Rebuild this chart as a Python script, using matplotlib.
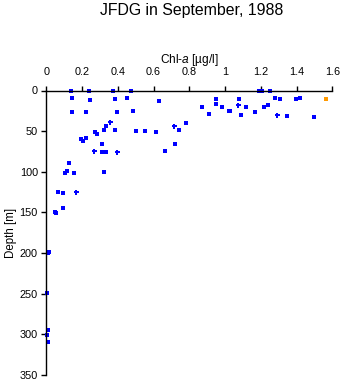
import matplotlib
matplotlib.use("Agg")
import matplotlib.pyplot as plt

plt.rcParams['font.family'] = ['Liberation Sans', 'DejaVu Sans']
plt.rcParams['mathtext.fontset'] = 'custom'
plt.rcParams['mathtext.rm'] = 'Liberation Sans'
plt.rcParams['mathtext.it'] = 'Liberation Sans:italic'

# square-marker samples (Chl-a, depth)
chl_sq = [0.136, 0.237, 0.375, 0.474, 0.146, 0.246, 0.386, 0.453, 0.146, 0.224,
          0.394, 0.483, 0.336, 0.274, 0.282, 0.324, 0.386, 0.503, 0.196, 0.205,
          0.224, 0.313, 0.313, 0.336, 0.127, 0.632, 0.873, 0.951, 0.951, 0.981,
          0.912, 1.024, 0.554, 0.615, 0.744, 0.783, 0.722, 0.666, 1.192, 1.208,
          1.251, 1.080, 1.030, 1.091, 1.119, 1.169, 1.220, 1.242, 1.281, 1.309,
          1.399, 1.421, 1.348, 1.499, 0.116, 0.106, 0.157, 0.324, 0.067, 0.095,
          0.095, 0.049, 0.056, 0.015, 0.008, 0.006, 0.008, 0.006, 0.008]
depth_sq = [0, 0, 0, 0, 9.6, 12, 10.8, 9.6, 26.8, 26,
            26, 25.2, 44, 50.6, 53, 49, 49, 50, 59.6, 62,
            58.8, 66, 76, 76, 89, 13.3, 20.7, 10.5, 17, 20.7,
            29.3, 24.8, 50, 51.4, 49, 40.3, 66, 74.4, 0, 0,
            0, 10, 25, 30.5, 20.7, 26, 20.7, 18.2, 9.6, 10,
            10, 9.6, 31.8, 33, 99.4, 101, 101.8, 100.6, 124.8, 126.4,
            144.8, 149.8, 151, 199, 199.5, 249, 295, 300.6, 309]

# plus-marker samples
chl_plus = [0.355, 0.265, 0.396, 0.164, 0.713, 1.071, 1.291]
depth_plus = [39, 74.8, 76, 125.2, 44, 18, 30.5]

# orange sample
chl_or = [1.566]
depth_or = [10]

xticks = [0, 0.2, 0.4, 0.6, 0.8, 1, 1.2, 1.4, 1.6]
xticklabels = ['0', '0.2', '0.4', '0.6', '0.8', '1', '1.2', '1.4', '1.6']
yticks = [0, 50, 100, 150, 200, 250, 300, 350]

fig = plt.figure(figsize=(3.43, 3.84), dpi=100)
ax = fig.add_axes([46.3/343, 1 - 375/384, (332.3-46.3)/343, (375-90.5)/384])

blue = '#0000ff'
ax.plot(chl_sq, depth_sq, linestyle='none', marker='s', markersize=2.9,
        color=blue, markeredgewidth=0, clip_on=False)
ax.plot(chl_plus, depth_plus, linestyle='none', marker='P', markersize=3.6,
        color=blue, markeredgewidth=0, clip_on=False)
ax.plot(chl_or, depth_or, linestyle='none', marker='s', markersize=2.4,
        color='#ff9900', markeredgewidth=0, clip_on=False)

ax.set_xlim(0, 1.6)
ax.set_ylim(350, 0)
ax.xaxis.tick_top()
ax.xaxis.set_label_position('top')
ax.set_xticks(xticks)
ax.set_xticklabels(xticklabels)
ax.set_yticks(yticks)
for s in ['right', 'bottom']:
    ax.spines[s].set_visible(False)
for s in ['left', 'top']:
    ax.spines[s].set_linewidth(1.0)
ax.tick_params(axis='both', direction='out', length=3.6, width=1.0,
               labelsize=7.8, colors='black')
ax.tick_params(axis='x', pad=6)
ax.tick_params(axis='y', pad=2.5)
ax.set_xlabel('Chl-$\\it{a}$ [µg/l]', fontsize=8.6, labelpad=3)
ax.set_ylabel('Depth [m]', fontsize=8.3, labelpad=2)

fig.text(192/343, 1 - 10/384, 'JFDG in September, 1988', ha='center',
         va='center', fontsize=11.4)

fig.savefig('out.png', dpi=100)
